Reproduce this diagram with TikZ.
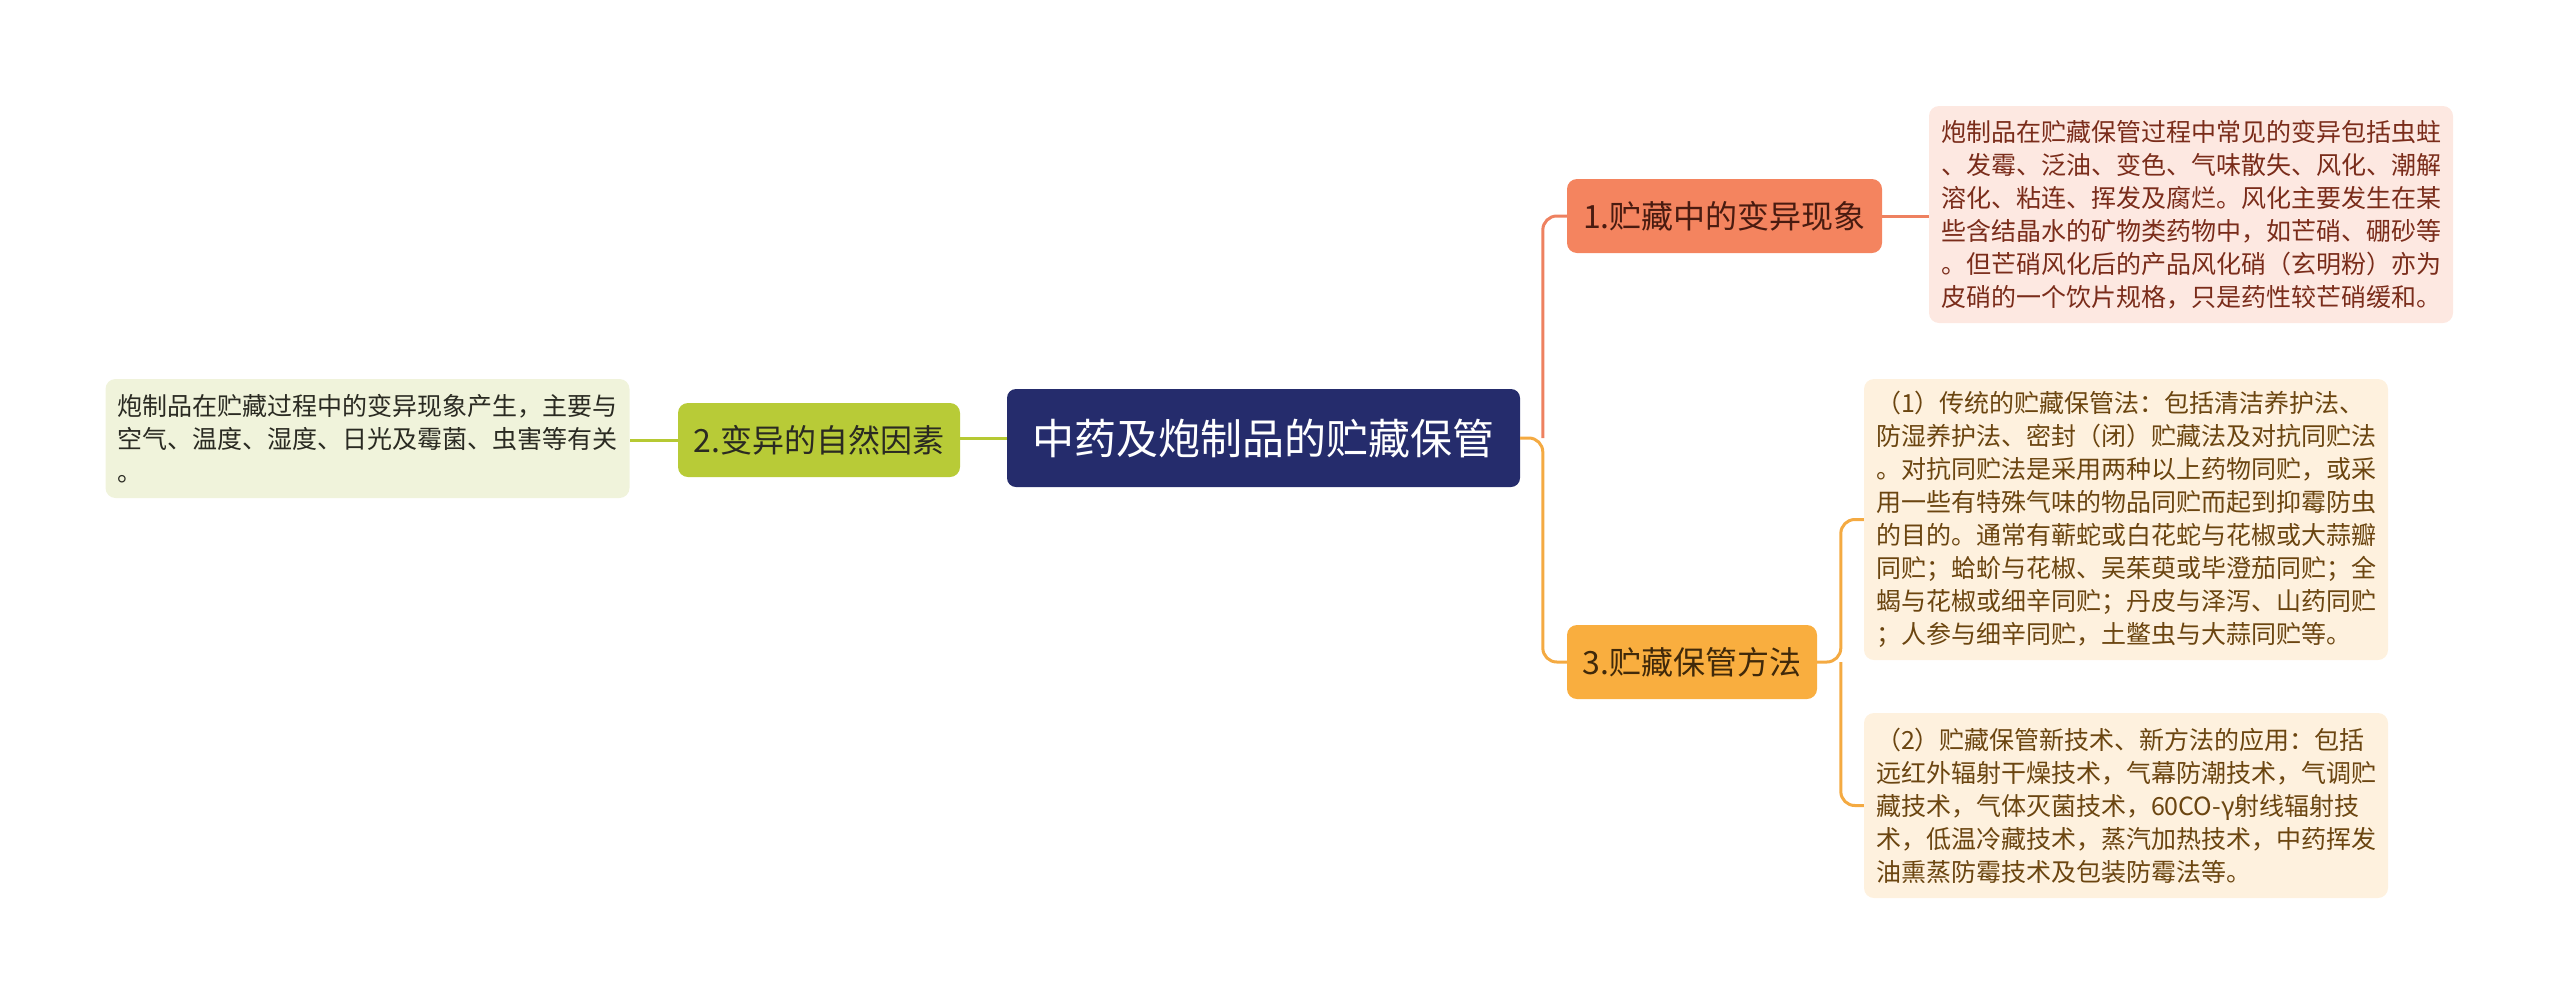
\documentclass[tikz,border=0pt]{standalone}
\usepackage{fontspec}
\setmainfont{Noto Sans CJK SC}
\usetikzlibrary{calc}
\definecolor{navy}{HTML}{252C6C}
\definecolor{coral}{HTML}{F4845F}
\definecolor{coralline}{HTML}{EE8160}
\definecolor{coralleaf}{HTML}{FDE8E1}
\definecolor{coraltext}{HTML}{7A2C1A}
\definecolor{orng}{HTML}{F9AE3F}
\definecolor{orngline}{HTML}{F4AA42}
\definecolor{orngleaf}{HTML}{FEF1DE}
\definecolor{orngtext}{HTML}{6B4510}
\definecolor{lime}{HTML}{B8CB37}
\definecolor{limeline}{HTML}{B6C933}
\definecolor{limeleaf}{HTML}{F0F3DB}
\definecolor{limetext}{HTML}{2A2A22}
\tikzset{
  rootbox/.style={fill=navy, rounded corners=9pt, text=white, minimum width=513pt, minimum height=98pt, inner sep=0pt, font=\fontsize{42}{50}\selectfont},
  topicbox/.style={rounded corners=10pt, minimum height=74pt, inner sep=0pt, font=\fontsize{32}{38}\selectfont},
  leafbox/.style={rounded corners=10pt, align=left, inner xsep=12pt, inner ysep=10pt, font=\fontsize{25}{33}\selectfont},
  link/.style={line width=3pt, rounded corners=14pt}
}
\begin{document}
\begin{tikzpicture}[x=1pt,y=-1pt]
\useasboundingbox (0,0) rectangle (2560,1005);
% root
\node[rootbox] (root) at (1263.5,438) {中药及炮制品的贮藏保管};
% topics
\node[topicbox, fill=coral, text=coraltext!60!black, minimum width=315pt] (t1) at (1724.5,216) {1.贮藏中的变异现象};
\node[topicbox, fill=orng, text=orngtext!60!black, minimum width=250pt] (t3) at (1692,662) {3.贮藏保管方法};
\node[topicbox, fill=lime, text=limetext, minimum width=282pt] (t2) at (819,440) {2.变异的自然因素};
% leaves
\node[leafbox, fill=coralleaf, text=coraltext, minimum width=522pt, minimum height=217pt] (l1) at (2191,214.5) {炮制品在贮藏保管过程中常见的变异包括虫蛀\\、发霉、泛油、变色、气味散失、风化、潮解\\溶化、粘连、挥发及腐烂。风化主要发生在某\\些含结晶水的矿物类药物中，如芒硝、硼砂等\\。但芒硝风化后的产品风化硝（玄明粉）亦为\\皮硝的一个饮片规格，只是药性较芒硝缓和。};
\node[leafbox, fill=orngleaf, text=orngtext, minimum width=522pt, minimum height=281pt] (l3a) at (2126,519.5) {（1）传统的贮藏保管法：包括清洁养护法、\\防湿养护法、密封（闭）贮藏法及对抗同贮法\\。对抗同贮法是采用两种以上药物同贮，或采\\用一些有特殊气味的物品同贮而起到抑霉防虫\\的目的。通常有蕲蛇或白花蛇与花椒或大蒜瓣\\同贮；蛤蚧与花椒、吴茱萸或毕澄茄同贮；全\\蝎与花椒或细辛同贮；丹皮与泽泻、山药同贮\\；人参与细辛同贮，土鳖虫与大蒜同贮等。};
\node[leafbox, fill=orngleaf, text=orngtext, minimum width=522pt, minimum height=185pt] (l3b) at (2126,805.5) {（2）贮藏保管新技术、新方法的应用：包括\\远红外辐射干燥技术，气幕防潮技术，气调贮\\藏技术，气体灭菌技术，60CO-γ射线辐射技\\术，低温冷藏技术，蒸汽加热技术，中药挥发\\油熏蒸防霉技术及包装防霉法等。};
\node[leafbox, fill=limeleaf, text=limetext, minimum width=523pt, minimum height=119pt] (l2) at (367.5,438.5) {炮制品在贮藏过程中的变异现象产生，主要与\\空气、温度、湿度、日光及霉菌、虫害等有关\\。};
% connectors
\coordinate (sp) at ($(t1.west |- root.east)+(-24,0)$);
\draw[link, draw=coralline] (sp) |- (t1.west);
\draw[link, draw=orngline] (root.east) -- (sp) |- (t3.west);
\draw[link, draw=coralline] (t1.east) -- (t1.east -| l1.west);
\coordinate (sp3) at ($(l3a.west |- t3.east)+(-23,0)$);
\draw[link, draw=orngline] (t3.east) -- (sp3) |- (l3a.west);
\draw[link, draw=orngline] (sp3) |- (l3b.west);
\draw[link, draw=limeline] (root.west) -- (root.west -| t2.east);
\draw[link, draw=limeline] (t2.west) -- (t2.west -| l2.east);
\end{tikzpicture}
\end{document}
